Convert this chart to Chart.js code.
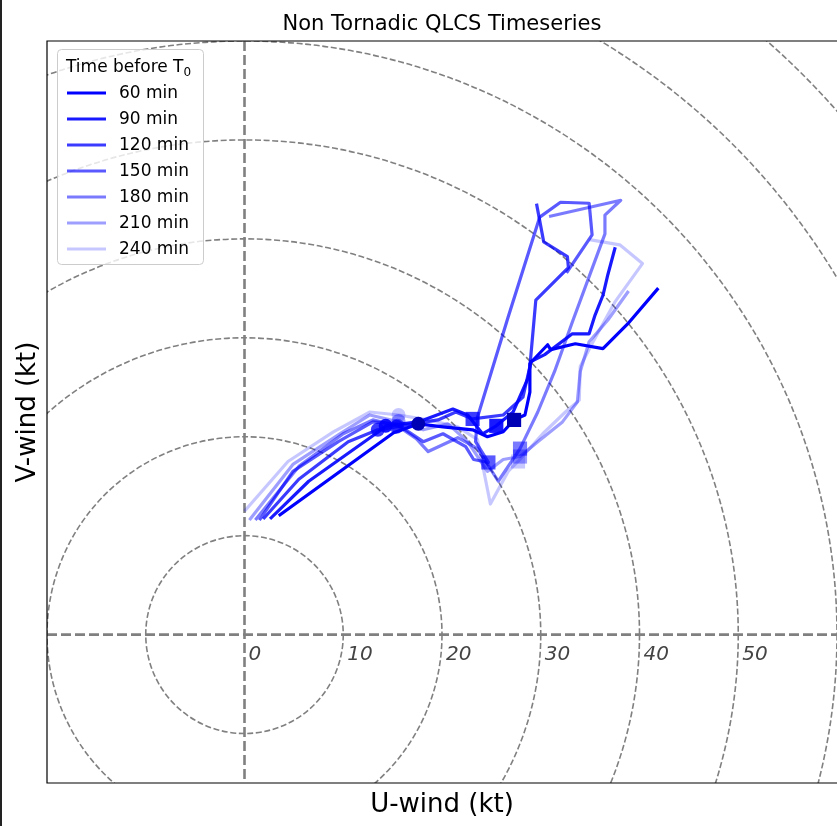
<!DOCTYPE html>
<html lang="en">
<head>
  <meta charset="UTF-8">
  <title>Non Tornadic QLCS Timeseries</title>
  <script src="https://cdn.jsdelivr.net/npm/chart.js"></script>
  <style>
    body { margin: 0; background: #fff; overflow: hidden; }
    #hodo { position: absolute; left: 0; top: 0; }
    .edge { position: absolute; left: 0; top: 0; width: 2px; height: 100%; background: #222; z-index: 2; }
  </style>
</head>
<body>
  <div class="edge"></div>
  <canvas id="hodo" width="837" height="826"></canvas>

<script>
// hodograph traces (kt), one pair of arrays per time before T0
const times = ['60 min', '90 min', '120 min', '150 min', '180 min', '210 min', '240 min'];

const u60 = [3.6, 15.1, 17.6, 20.1, 23.1, 24.6, 26.2, 27.3, 28.4, 28.9, 28.9, 30.7, 31.0, 33.5, 36.3, 38.8, 41.8];
const v60 = [12.1, 20.4, 21.3, 21.0, 20.7, 20.0, 20.5, 21.7, 22.2, 24.5, 27.4, 29.3, 28.8, 29.4, 28.9, 31.4, 34.9];

const u90 = [2.7, 6.5, 14.0, 14.3, 17.6, 21.1, 22.6, 24.1, 25.5, 27.2, 28.7, 29.0, 30.4, 33.2, 34.9, 35.5, 36.3, 36.8, 37.5];
const v90 = [11.8, 15.5, 20.8, 21.1, 21.5, 22.8, 22.2, 20.3, 21.1, 22.5, 25.9, 27.6, 28.3, 30.4, 30.4, 32.3, 34.3, 36.4, 39.0];

const u120 = [2.0, 5.5, 10.5, 13.5, 16.6, 19.6, 21.4, 23.1, 26.2, 28.2, 28.9, 29.5, 32.8, 32.7, 30.3, 29.6];
const v120 = [11.8, 15.7, 19.5, 20.7, 21.2, 21.7, 22.5, 21.8, 22.2, 24.0, 27.1, 33.8, 37.1, 38.2, 39.7, 43.4];

const u150 = [1.6, 4.9, 9.5, 13.0, 15.4, 18.1, 20.1, 22.4, 23.2, 24.7, 23.4, 23.6, 26.7, 29.9, 32.0, 34.9, 35.2, 32.7];
const v150 = [11.7, 16.5, 19.5, 21.5, 21.3, 19.5, 20.3, 19.0, 17.7, 17.4, 19.5, 22.0, 32.1, 42.2, 43.7, 43.6, 40.4, 36.7];

const u180 = [1.2, 5.5, 10.0, 13.0, 15.5, 17.4, 18.6, 21.6, 23.6, 25.7, 27.9, 29.7, 31.4, 33.2, 36.5, 36.5, 38.1, 31.0];
const v180 = [11.7, 17.0, 20.3, 21.7, 21.1, 19.8, 18.5, 19.9, 18.8, 15.5, 18.8, 22.5, 26.6, 31.6, 40.5, 42.4, 43.9, 42.3];

const u210 = [0.6, 4.9, 9.5, 12.7, 15.6, 18.1, 20.6, 22.6, 24.6, 26.2, 27.9, 29.7, 32.2, 33.7, 34.0, 34.9, 36.8, 38.8];
const v210 = [11.7, 17.2, 20.2, 22.2, 21.5, 20.7, 21.3, 19.5, 16.5, 17.7, 18.0, 19.5, 21.5, 23.5, 26.6, 29.6, 31.8, 34.6];

const u240 = [0.1, 4.4, 9.0, 12.7, 15.6, 18.6, 21.6, 23.6, 24.9, 26.7, 27.7, 30.2, 32.5, 33.9, 34.0, 35.3, 37.5, 40.3, 38.0, 35.1];
const v240 = [12.6, 17.5, 20.5, 22.5, 22.2, 21.7, 21.0, 19.7, 13.2, 16.5, 17.5, 20.3, 22.5, 23.7, 27.1, 29.6, 33.6, 37.5, 39.4, 39.9];

// circle / square markers on each trace
const circleU = [17.6, 14.3, 13.5, 15.4, 15.5, 15.6, 15.6];
const circleV = [21.3, 21.1, 20.7, 21.0, 21.1, 21.6, 22.2];
const squareU = [27.3, 25.5, 23.1, 24.7, 27.9, 27.9, 27.7];
const squareV = [21.7, 21.1, 21.8, 17.4, 18.8, 18.0, 17.5];

const ringSpeeds = [10, 20, 30, 40, 50, 60, 70, 80];
const tickValues = [0, 10, 20, 30, 40, 50];

const uAll = [u60, u90, u120, u150, u180, u210, u240];
const vAll = [v60, v90, v120, v150, v180, v210, v240];
const alphas = [1, 0.9, 0.77, 0.65, 0.52, 0.38, 0.22];

const lineColor = i => `rgba(0,0,255,${alphas[i]})`;
const markerColor = i => i === 0 ? '#0000b4' : lineColor(i);

const lineSets = times.map((t, i) => ({
  label: t,
  data: uAll[i].map((u, j) => ({ x: u, y: vAll[i][j] })),
  showLine: true,
  borderColor: lineColor(i),
  backgroundColor: lineColor(i),
  borderWidth: 3.2,
  borderJoinStyle: 'round',
  borderCapStyle: 'square',
  pointRadius: 0,
  tension: 0,
  order: 20 + i
}));

const markerSets = times.map((t, i) => ({
  label: t + ' marks',
  data: [{ x: circleU[i], y: circleV[i] }, { x: squareU[i], y: squareV[i] }],
  showLine: false,
  pointStyle: ['circle', 'rect'],
  pointRadius: [7, 10],
  pointBorderWidth: 0,
  backgroundColor: markerColor(i),
  borderColor: markerColor(i),
  order: i
}));

const FONT = '"DejaVu Sans", sans-serif';

const hodoPlugin = {
  id: 'hodo',
  beforeDatasetsDraw(chart) {
    const { ctx, chartArea: a, scales: { x, y } } = chart;
    const cx = x.getPixelForValue(0), cy = y.getPixelForValue(0);
    ctx.save();
    ctx.beginPath();
    ctx.rect(a.left, a.top, a.right - a.left, a.bottom - a.top);
    ctx.clip();
    ctx.strokeStyle = '#808080';
    ctx.lineWidth = 1.6;
    ctx.setLineDash([6, 2.6]);
    ringSpeeds.forEach(r => {
      const rx = x.getPixelForValue(r) - cx;
      const ry = cy - y.getPixelForValue(r);
      ctx.beginPath();
      ctx.ellipse(cx, cy, rx, ry, 0, 0, Math.PI * 2);
      ctx.stroke();
    });
    ctx.lineWidth = 2.6;
    ctx.setLineDash([10, 4]);
    ctx.beginPath();
    ctx.moveTo(cx, a.top); ctx.lineTo(cx, a.bottom);
    ctx.moveTo(a.left, cy); ctx.lineTo(a.right, cy);
    ctx.stroke();
    ctx.restore();
  },
  afterDraw(chart) {
    const { ctx, chartArea: a, scales: { x, y } } = chart;
    const cy = y.getPixelForValue(0);
    ctx.save();

    // tick labels along the u axis
    ctx.fillStyle = '#444';
    ctx.font = `oblique 20px ${FONT}`;
    ctx.textBaseline = 'top';
    ctx.textAlign = 'left';
    tickValues.forEach(v => ctx.fillText(String(v), x.getPixelForValue(v) + 4, cy + 10));

    // frame (right side runs off the page)
    ctx.strokeStyle = '#000';
    ctx.lineWidth = 1.2;
    ctx.beginPath();
    ctx.moveTo(a.right + 5, a.top); ctx.lineTo(a.left, a.top);
    ctx.lineTo(a.left, a.bottom); ctx.lineTo(a.right + 5, a.bottom);
    ctx.stroke();

    // titles
    const mid = (a.left + a.right) / 2;
    ctx.fillStyle = '#000';
    ctx.textAlign = 'center';
    ctx.textBaseline = 'alphabetic';
    ctx.font = `21px ${FONT}`;
    ctx.fillText('Non Tornadic QLCS Timeseries', mid, a.top - 11);
    ctx.font = `26px ${FONT}`;
    ctx.fillText('U-wind (kt)', mid, a.bottom + 29);
    ctx.save();
    ctx.translate(a.left - 12, (a.top + a.bottom) / 2);
    ctx.rotate(-Math.PI / 2);
    ctx.fillText('V-wind (kt)', 0, 0);
    ctx.restore();

    // legend
    const bx = a.left + 10, by = a.top + 8, bw = 146, bh = 215;
    ctx.fillStyle = 'rgba(255,255,255,0.8)';
    ctx.strokeStyle = '#cccccc';
    ctx.lineWidth = 1;
    ctx.beginPath();
    ctx.roundRect(bx + 0.5, by + 0.5, bw, bh, 4);
    ctx.fill();
    ctx.stroke();
    ctx.fillStyle = '#000';
    ctx.textAlign = 'left';
    ctx.font = `17px ${FONT}`;
    const title = 'Time before T';
    ctx.fillText(title, bx + 9, by + 23);
    const tw = ctx.measureText(title).width;
    ctx.font = `12px ${FONT}`;
    ctx.fillText('0', bx + 9 + tw, by + 27);
    ctx.font = `17px ${FONT}`;
    ctx.textBaseline = 'middle';
    times.forEach((t, i) => {
      const ly = by + 44 + i * 26;
      ctx.strokeStyle = lineColor(i);
      ctx.lineWidth = 3;
      ctx.beginPath();
      ctx.moveTo(bx + 10, ly); ctx.lineTo(bx + 49, ly);
      ctx.stroke();
      ctx.fillStyle = '#000';
      ctx.fillText(t, bx + 62, ly + 1);
    });
    ctx.restore();
  }
};

new Chart(document.getElementById('hodo'), {
  type: 'scatter',
  data: { datasets: [...lineSets, ...markerSets] },
  options: {
    responsive: false,
    animation: false,
    layout: { autoPadding: false, padding: { left: 47, top: 41, right: -2, bottom: 43 } },
    plugins: { legend: { display: false }, title: { display: false }, tooltip: { enabled: false } },
    scales: {
      x: { type: 'linear', min: -20, max: 60, display: false },
      y: { type: 'linear', min: -15, max: 60, display: false }
    }
  },
  plugins: [hodoPlugin]
});
</script>
</body>
</html>
